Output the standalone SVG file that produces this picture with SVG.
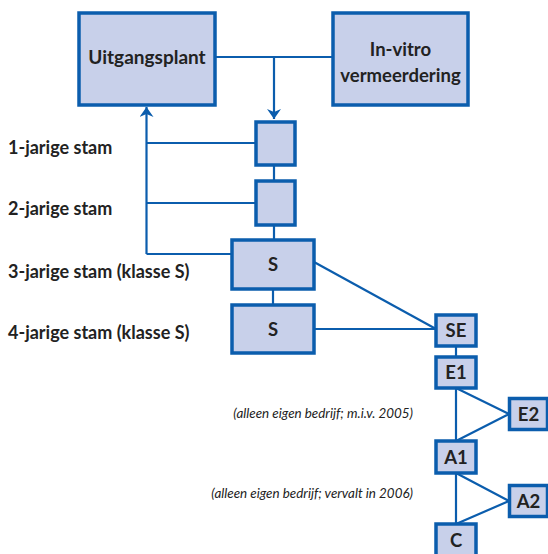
<svg xmlns="http://www.w3.org/2000/svg" width="548" height="554" viewBox="0 0 548 554">
<style>
.box{fill:#C8D0EA;stroke:#0B5DAD;stroke-width:3.5}
.ln{stroke:#0B5DAD;stroke-width:2.2;fill:none}
.t{font-family:Lato,"Open Sans","Liberation Sans",sans-serif;font-weight:bold;fill:#222;font-size:18.5px;text-anchor:middle}
.lab{font-family:Lato,"Open Sans","Liberation Sans",sans-serif;font-weight:bold;fill:#222;font-size:18px}
.it{font-family:Lato,"Open Sans","Liberation Sans",sans-serif;font-style:italic;fill:#222;font-size:13.4px;text-anchor:end}
</style>
<defs>
<marker id="ah" viewBox="0 0 10 14" refX="10" refY="7" markerWidth="10" markerHeight="14" markerUnits="userSpaceOnUse" orient="auto">
<path d="M0,0 L10,7 L0,14 L3,7 Z" fill="#0B5DAD"/>
</marker>
</defs>
<g id="connectors">
<path class="ln" d="M215,57 H333"/>
<path class="ln" d="M274,57 V119" marker-end="url(#ah)"/>
<path class="ln" d="M146.5,254 V107" marker-end="url(#ah)"/>
<path class="ln" d="M146.5,143 H256"/>
<path class="ln" d="M146.5,203 H256"/>
<path class="ln" d="M146.5,254 H232"/>
<path class="ln" d="M274,165 V181"/>
<path class="ln" d="M274,225 V240"/>
<path class="ln" d="M273,289 V305"/>
<path class="ln" d="M314,262 L436,329"/>
<path class="ln" d="M314,329 H436"/>
<path class="ln" d="M456,346 V357"/>
<path class="ln" d="M456,388 V441"/>
<path class="ln" d="M456,388 L509,414 L456,441"/>
<path class="ln" d="M456,473 V524"/>
<path class="ln" d="M456,473 L509,501 L456,524"/>
</g>
<g id="uitgangsplant"><rect class="box" x="79" y="13" width="136" height="92"/><text class="t" x="147" y="64" style="font-size:19px">Uitgangsplant</text></g>
<g id="invitro"><rect class="box" x="333" y="13" width="135" height="92"/><text class="t" x="400.5" y="56">In-vitro</text><text class="t" x="400.5" y="82">vermeerdering</text></g>
<g id="stam1"><rect class="box" x="256" y="122" width="39" height="43"/></g>
<g id="stam2"><rect class="box" x="256" y="181" width="39" height="44"/></g>
<g id="s1"><rect class="box" x="232" y="240" width="82" height="49"/><text class="t" x="273" y="271">S</text></g>
<g id="s2"><rect class="box" x="232" y="305" width="82" height="48"/><text class="t" x="273" y="336">S</text></g>
<g id="se"><rect class="box" x="436" y="315" width="40" height="31"/><text class="t" x="456" y="337">SE</text></g>
<g id="e1"><rect class="box" x="436" y="357" width="40" height="31"/><text class="t" x="456" y="379">E1</text></g>
<g id="e2"><rect class="box" x="509.5" y="398.5" width="38" height="31"/><text class="t" x="528.5" y="421">E2</text></g>
<g id="a1"><rect class="box" x="436" y="441" width="40" height="32"/><text class="t" x="456" y="464">A1</text></g>
<g id="a2"><rect class="box" x="509.5" y="485.5" width="38" height="31"/><text class="t" x="528.5" y="508">A2</text></g>
<g id="c"><rect class="box" x="436" y="524" width="40" height="32"/><text class="t" x="456" y="547">C</text></g>
<g id="labels">
<text class="lab" x="8" y="154">1-jarige stam</text>
<text class="lab" x="8" y="215">2-jarige stam</text>
<text class="lab" x="8" y="278">3-jarige stam (klasse S)</text>
<text class="lab" x="8" y="339">4-jarige stam (klasse S)</text>
<text class="it" x="413" y="418">(alleen eigen bedrijf; m.i.v. 2005)</text>
<text class="it" x="413" y="498">(alleen eigen bedrijf; vervalt in 2006)</text>
</g>
</svg>
